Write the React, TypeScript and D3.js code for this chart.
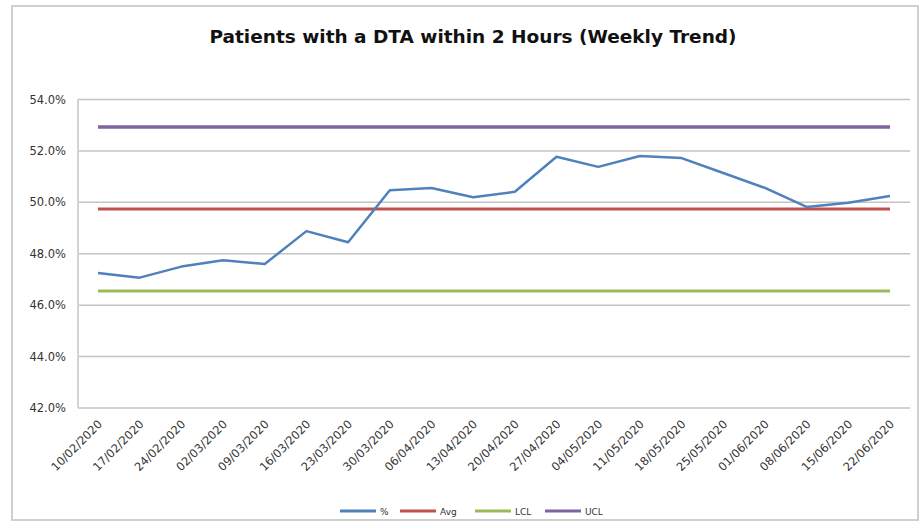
import React, { useRef, useEffect } from 'react';
import * as d3 from 'd3';

const weeks = [
  '10/02/2020', '17/02/2020', '24/02/2020', '02/03/2020', '09/03/2020',
  '16/03/2020', '23/03/2020', '30/03/2020', '06/04/2020', '13/04/2020',
  '20/04/2020', '27/04/2020', '04/05/2020', '11/05/2020', '18/05/2020',
  '25/05/2020', '01/06/2020', '08/06/2020', '15/06/2020', '22/06/2020',
];
const pct = [
  47.25, 47.07, 47.5, 47.75, 47.6, 48.88, 48.45, 50.47, 50.56, 50.2,
  50.41, 51.77, 51.38, 51.8, 51.72, 51.14, 50.56, 49.82, 49.98, 50.25,
];
const avgValue = 49.74;
const lclValue = 46.55;
const uclValue = 52.93;
const yTicks = [42, 44, 46, 48, 50, 52, 54];

const legendItems = [
  { key: '%', color: '#4F81BD' },
  { key: 'Avg', color: '#C0504D' },
  { key: 'LCL', color: '#9BBB59' },
  { key: 'UCL', color: '#8064A2' },
];

const W = 924;
const H = 526;

const App = () => {
  const svgRef = useRef<SVGSVGElement>(null);

  useEffect(() => {
    const svg = d3.select(svgRef.current);
    svg.selectAll('*').remove();

    const font = '"DejaVu Sans", Verdana, sans-serif';

    // outer chart border
    svg.append('rect')
      .attr('x', 12).attr('y', 6)
      .attr('width', 906).attr('height', 514)
      .attr('fill', '#fff')
      .attr('stroke', '#cfcfcf')
      .attr('stroke-width', 2);

    svg.append('text')
      .attr('x', 473).attr('y', 43)
      .attr('text-anchor', 'middle')
      .style('font-family', font)
      .style('font-weight', 'bold')
      .style('font-size', '18.5px')
      .style('fill', '#111')
      .text('Patients with a DTA within 2 Hours (Weekly Trend)');

    const plot = { left: 78, right: 910, top: 99.5, bottom: 408 };

    const x = d3.scalePoint<string>()
      .domain(weeks)
      .range([98, 890]);

    const y = d3.scaleLinear()
      .domain([42, 54])
      .range([plot.bottom, plot.top]);

    // gridlines
    svg.append('g')
      .selectAll('line')
      .data(yTicks)
      .join('line')
      .attr('x1', plot.left).attr('x2', plot.right)
      .attr('y1', d => y(d)).attr('y2', d => y(d))
      .attr('stroke', '#c4c4c4')
      .attr('stroke-width', 1.5);

    // y axis line
    svg.append('line')
      .attr('x1', plot.left).attr('x2', plot.left)
      .attr('y1', plot.top).attr('y2', plot.bottom)
      .attr('stroke', '#d4d4d4')
      .attr('stroke-width', 2);

    // y tick labels
    svg.append('g')
      .selectAll('text')
      .data(yTicks)
      .join('text')
      .attr('x', 66)
      .attr('y', d => y(d) + 4)
      .attr('text-anchor', 'end')
      .style('font-family', font)
      .style('font-size', '11.5px')
      .style('fill', '#333')
      .text(d => d.toFixed(1) + '%');

    // x tick labels, rotated
    svg.append('g')
      .selectAll('text')
      .data(weeks)
      .join('text')
      .attr('transform', d => `translate(${x(d)! + 2},${422}) rotate(-45)`)
      .attr('text-anchor', 'end')
      .attr('dy', '0.35em')
      .style('font-family', font)
      .style('font-size', '11.5px')
      .style('fill', '#333')
      .text(d => d);

    const flat = (v: number) => weeks.map(w => ({ w, v }));
    const line = d3.line<{ w: string; v: number }>()
      .x(d => x(d.w)!)
      .y(d => y(d.v));

    const drawSeries = (vals: { w: string; v: number }[], color: string, width: number) => {
      svg.append('path')
        .datum(vals)
        .attr('fill', 'none')
        .attr('stroke', color)
        .attr('stroke-width', width)
        .attr('stroke-linejoin', 'round')
        .attr('d', line);
    };

    drawSeries(flat(uclValue), '#8064A2', 3.5);
    drawSeries(flat(lclValue), '#9BBB59', 3);
    drawSeries(flat(avgValue), '#C0504D', 3);
    drawSeries(weeks.map((w, i) => ({ w, v: pct[i] })), '#4F81BD', 2.5);

    // legend
    const legendX = [340, 400, 475, 545];
    const lg = svg.append('g');
    legendItems.forEach((item, i) => {
      const g = lg.append('g').attr('transform', `translate(${legendX[i]},511)`);
      g.append('line')
        .attr('x1', 0).attr('x2', 36)
        .attr('stroke', item.color)
        .attr('stroke-width', 3);
      g.append('text')
        .attr('x', 40).attr('y', 3.5)
        .style('font-family', font)
        .style('font-size', '9px')
        .style('fill', '#333')
        .text(item.key);
    });
  }, []);

  return (
    <div style={{ position: 'absolute', left: 0, top: 0 }}>
      <svg ref={svgRef} width={W} height={H} style={{ display: 'block', background: '#fff' }} />
    </div>
  );
};

export default App;
